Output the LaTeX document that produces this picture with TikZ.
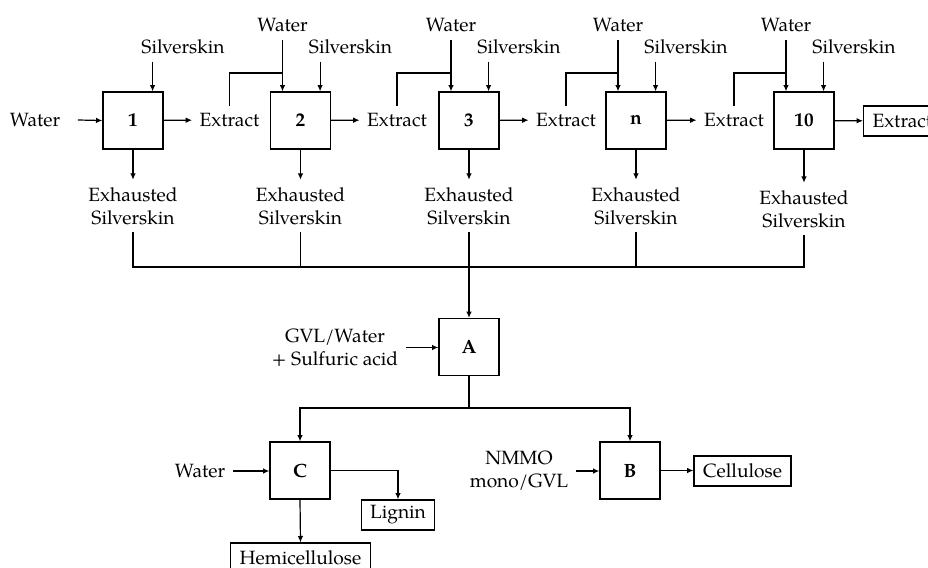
\documentclass[tikz,border=0pt]{standalone}
\usepackage{fontspec}
\setmainfont{TeX Gyre Pagella}
\usetikzlibrary{arrows.meta,calc}
\begin{document}
\begin{tikzpicture}[x=0.5pt,y=-0.5pt, line width=0.6pt,
  every node/.style={font=\fontsize{9.6}{11.5}\selectfont},
  proc/.style={draw, minimum width=30pt, minimum height=28.5pt, inner sep=0pt, font=\fontsize{9.6}{11.5}\selectfont\bfseries},
  prod/.style={draw, inner xsep=4.5pt, inner ysep=0pt, minimum height=15pt},
  lbl/.style={inner sep=3.5pt, align=center},
  arr/.style={-{Latex[length=3.2pt,width=2.8pt]}}]
\useasboundingbox (0,0) rectangle (928,568);
\clip (0,0) rectangle (928,568);
\fill[white] (0,0) rectangle (928,568);
\coordinate (br) at (0,73);
\coordinate (cy) at (0,267);
\coordinate (by) at (0,408);
% process boxes
\node[proc] (b1) at (133,120.5) {1};
\node[proc] (b2) at (300.5,120.5) {2};
\node[proc] (b3) at (469,120.5) {3};
\node[proc] (bn) at (636,120.5) {n};
\node[proc] (b10) at (804,120.5) {10};
% silverskin inlet points
\coordinate (i1) at ($(b1.north east)+(-11,0)$);
\coordinate (i2) at ($(b2.north east)+(-11,0)$);
\coordinate (i3) at ($(b3.north east)+(-11,0)$);
\coordinate (in) at ($(bn.north east)+(-11,0)$);
\coordinate (i10) at ($(b10.north east)+(-11,0)$);
% inputs
\node[lbl] (w0) at (35,120) {Water};
\node[lbl] (s1) at (183,47) {Silverskin};
\node[lbl] (w2) at (282.5,25) {Water};
\node[lbl] (s2) at (350.5,47) {Silverskin};
\node[lbl] (w3) at (451,25) {Water};
\node[lbl] (s3) at (519,47) {Silverskin};
\node[lbl] (wn) at (618,25) {Water};
\node[lbl] (sn) at (686,47) {Silverskin};
\node[lbl] (w10) at (786,25) {Water};
\node[lbl] (s10) at (854,47) {Silverskin};
% extracts
\node[lbl] (x1) at (229.5,120) {Extract};
\node[lbl] (x2) at (397,120) {Extract};
\node[lbl] (x3) at (566,120) {Extract};
\node[lbl] (xn) at (734,120) {Extract};
\node[prod, anchor=west] (x10) at (863,121) {Extract};
% exhausted
\node[lbl] (e1) at (133,206) {Exhausted\\Silverskin};
\node[lbl] (e2) at (300.5,206) {Exhausted\\Silverskin};
\node[lbl] (e3) at (469,206) {Exhausted\\Silverskin};
\node[lbl] (en) at (636,206) {Exhausted\\Silverskin};
\node[lbl] (e10) at (804,209) {Exhausted\\Silverskin};
% lower part
\node[proc] (A) at (469,347) {A};
\node[lbl] (g) at (335,347.5) {GVL/Water\\+ Sulfuric acid};
\node[proc] (C) at (300,470.5) {C};
\node[proc] (B) at (630,470.5) {B};
\node[lbl] (wc) at (200,471) {Water};
\node[lbl] (nm) at (519,471) {NMMO\\mono/GVL};
\node[prod] (lig) at (398,515) {Lignin};
\node[prod] (hem) at (300.5,558) {Hemicellulose};
\node[prod] (cel) at (742.5,471) {Cellulose};
% top row connectors
\draw[arr] ([xshift=5pt]w0.east) -- (b1.west);
\draw[arr] (b1) -- (x1);
\draw[arr] (b2) -- (x2);
\draw[arr] (b3) -- (x3);
\draw[arr] (bn) -- (xn);
\draw[arr] (b10) -- (x10);
\draw[arr] (i1 |- s1.south) -- (i1);
\draw[arr] (i2 |- s2.south) -- (i2);
\draw[arr] (i3 |- s3.south) -- (i3);
\draw[arr] (in |- sn.south) -- (in);
\draw[arr] (i10 |- s10.south) -- (i10);
\draw[arr] (w2.south) -- (w2.south |- b2.north);
\draw[arr] (w3.south) -- (w3.south |- b3.north);
\draw[arr] (wn.south) -- (wn.south |- bn.north);
\draw[arr] (w10.south) -- (w10.south |- b10.north);
\draw (x1.north) |- (w2.south |- br);
\draw (x2.north) |- (w3.south |- br);
\draw (x3.north) |- (wn.south |- br);
\draw (xn.north) |- (w10.south |- br);
\draw[arr] (b1.south) -- (e1.north);
\draw[arr] (b2.south) -- (e2.north);
\draw[arr] (b3.south) -- (e3.north);
\draw[arr] (bn.south) -- (en.north);
\draw[arr] (b10.south) -- (e10.north);
% collection
\draw (e1.south) -- (e1.south |- cy) -- (e10.south |- cy) -- (e10.south);
\draw (e2.south) -- (e2.south |- cy);
\draw (en.south) -- (en.south |- cy);
\draw[arr] (e3.south) -- (A.north);
\draw[arr] (g.east) -- (g.east -| A.west);
% branch
\draw[arr] (A.south) -- (A.south |- by) -| (C.north);
\draw[arr] (A.south |- by) -| (B.north);
\draw[arr] (wc.east) -- (wc.east -| C.west);
\draw[arr] (C.east) -| (lig.north);
\draw[arr] (C.south) -- (hem.north);
\draw[arr] (nm.east) -- (nm.east -| B.west);
\draw[arr] (B.east) -- (B.east -| cel.west);
\end{tikzpicture}
\end{document}
